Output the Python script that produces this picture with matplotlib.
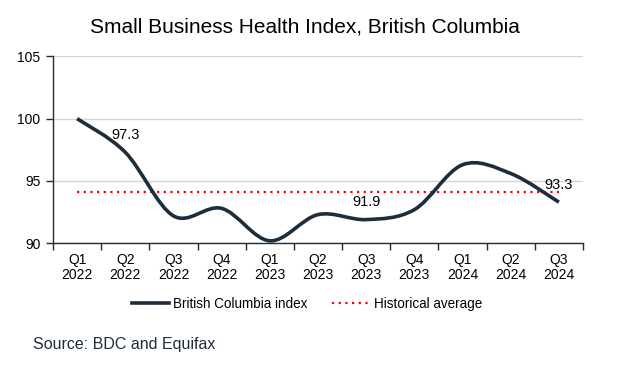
import matplotlib
matplotlib.use("Agg")
import matplotlib.pyplot as plt
from matplotlib.path import Path
from matplotlib.patches import PathPatch
from matplotlib.lines import Line2D
import numpy as np

plt.rcParams['font.family'] = ['Liberation Sans', 'DejaVu Sans']

quarters = ["Q1\n2022", "Q2\n2022", "Q3\n2022", "Q4\n2022",
            "Q1\n2023", "Q2\n2023", "Q3\n2023", "Q4\n2023",
            "Q1\n2024", "Q2\n2024", "Q3\n2024"]
bc_index = [100.0, 97.3, 92.2, 92.8, 90.2, 92.3, 91.9, 92.7, 96.3, 95.6, 93.3]
hist_avg = 94.1
labelled = {1: "97.3", 6: "91.9", 10: "93.3"}

NAVY = "#1d2d3c"
RED = "#f0000f"
DOTS = (0, (1, 2))


def smooth_path(xs, ys):
    # excel-style smoothed line as cubic bezier segments
    pts = np.column_stack([xs, ys])
    n = len(pts)
    verts = [pts[0]]
    codes = [Path.MOVETO]
    for i in range(n - 1):
        p0 = pts[i - 1] if i > 0 else pts[i]
        p1 = pts[i]
        p2 = pts[i + 1]
        p3 = pts[i + 2] if i + 2 < n else pts[i + 1]
        c1 = p1 + (p2 - p0) / 6
        c2 = p2 - (p3 - p1) / 6
        verts += [c1, c2, p2]
        codes += [Path.CURVE4] * 3
    return Path(verts, codes)


def main():
    fig = plt.figure(figsize=(6.33, 3.71), dpi=100)
    ax = fig.add_axes([53 / 633, 1 - 243.3 / 371, 530 / 633, 187 / 371])

    x = np.arange(len(quarters))
    patch = PathPatch(smooth_path(x, bc_index), facecolor="none",
                      edgecolor=NAVY, lw=2.6, capstyle="butt", zorder=3)
    ax.add_patch(patch)
    ax.plot([x[0], x[-1]], [hist_avg, hist_avg], color=RED, lw=1.6,
            linestyle=DOTS, dash_capstyle="butt", zorder=2)

    for i, txt in labelled.items():
        ax.text(x[i], bc_index[i] + 1.4, txt, ha="center", va="center",
                fontsize=10.5, zorder=4)

    ax.set_xlim(-0.5, len(quarters) - 0.5)
    ax.set_ylim(90, 105)
    ax.set_yticks([90, 95, 100, 105])
    ax.set_xticks(np.arange(-0.5, len(quarters)), [""] * (len(quarters) + 1))
    ax.set_xticks(x, quarters, minor=True)
    ax.tick_params(axis="x", which="major", length=5, color=NAVY, width=1)
    ax.tick_params(axis="x", which="minor", length=0, pad=7, labelsize=10)
    for lbl in ax.get_xticklabels(minor=True):
        lbl.set_linespacing(1.1)
    ax.tick_params(axis="y", length=5, color=NAVY, width=1, labelsize=10, pad=4)
    ax.grid(axis="y", color="#d9d3cc", lw=1)
    ax.set_axisbelow(True)
    for s in ("top", "right"):
        ax.spines[s].set_visible(False)
    for s in ("left", "bottom"):
        ax.spines[s].set_color(NAVY)
        ax.spines[s].set_linewidth(1)

    fig.text(305 / 633, 1 - 27 / 371, "Small Business Health Index, British Columbia",
             ha="center", va="center", fontsize=15)

    handles = [Line2D([], [], color=NAVY, lw=2.6),
               Line2D([], [], color=RED, lw=1.6, linestyle=DOTS)]
    fig.legend(handles, ["British Columbia index", "Historical average"],
               loc="center", bbox_to_anchor=(307 / 633, 1 - 304 / 371), ncol=2,
               frameon=False, fontsize=9.75, handlelength=2.8, handletextpad=0.3,
               columnspacing=1.8)

    fig.text(33 / 633, 1 - 344 / 371, "Source: BDC and Equifax", ha="left",
             va="center", fontsize=11.5, color="#1d2d3c")

    fig.savefig("out.png", dpi=100)


if __name__ == "__main__":
    main()
